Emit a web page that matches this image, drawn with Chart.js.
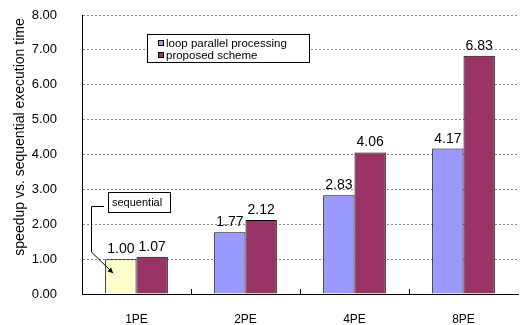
<!DOCTYPE html>
<html>
<head>
<meta charset="utf-8">
<script src="https://cdn.jsdelivr.net/npm/chart.js@4/dist/chart.umd.min.js"></script>
<style>
  html, body { margin: 0; padding: 0; background: #fff; }
  #wrap { width: 524px; height: 325px; position: relative; }
</style>
</head>
<body>
<div id="wrap"><canvas id="speedupChart"></canvas></div>
<script>
// ------------------ Data ------------------

const categories = ["1PE", "2PE", "4PE", "8PE"];
const loopParallel = [1.00, 1.77, 2.83, 4.17];
const proposedScheme = [1.07, 2.12, 4.06, 6.83];
const seriesNames = ["loop parallel processing", "proposed scheme"];
const yTicks = [0, 1, 2, 3, 4, 5, 6, 7, 8];
const calloutText = "sequential";
const yTitle = "speedup vs. sequential execution time";

const FONT = "'Liberation Sans', Arial, sans-serif";
const SEQ_COLOR = "#FFFFCC";
const LOOP_COLOR = "#9999FF";
const PROP_COLOR = "#993366";

// first loop-parallel bar is the sequential run
const loopColors = loopParallel.map((v, i) => i === 0 ? SEQ_COLOR : LOOP_COLOR);

// ------------------ Plugins ------------------

// value labels above every bar
const valueLabels = {
  id: "valueLabels",
  afterDatasetsDraw(chart) {
    const ctx = chart.ctx;
    ctx.save();
    ctx.font = "14px " + FONT;
    ctx.fillStyle = "#000";
    ctx.textAlign = "center";
    ctx.textBaseline = "alphabetic";
    chart.data.datasets.forEach((ds, di) => {
      chart.getDatasetMeta(di).data.forEach((bar, i) => {
        ctx.fillText(ds.data[i].toFixed(2), bar.x, bar.y - 6);
      });
    });
    ctx.restore();
  }
};

// small upward ticks between categories
const categoryTicks = {
  id: "categoryTicks",
  afterDatasetsDraw(chart) {
    const x = chart.scales.x;
    const bottom = chart.chartArea.bottom;
    const ctx = chart.ctx;
    ctx.save();
    ctx.strokeStyle = "#000";
    ctx.lineWidth = 1;
    for (let i = 0; i < categories.length - 1; i++) {
      const px = Math.round((x.getPixelForValue(i) + x.getPixelForValue(i + 1)) / 2) + 0.5;
      ctx.beginPath();
      ctx.moveTo(px, bottom);
      ctx.lineTo(px, bottom - 5);
      ctx.stroke();
    }
    ctx.restore();
  }
};

// legend box inside the plot, "sequential" callout, rotated y title
const extras = {
  id: "extras",
  afterDraw(chart) {
    const ctx = chart.ctx;
    const area = chart.chartArea;
    ctx.save();

    // legend
    const lx = 147, ly = 34, lw = 162, lh = 28;
    ctx.fillStyle = "#fff";
    ctx.fillRect(lx, ly, lw, lh);
    ctx.strokeStyle = "#000";
    ctx.lineWidth = 1;
    ctx.strokeRect(lx + 0.5, ly + 0.5, lw, lh);
    ctx.font = "11.5px " + FONT;
    ctx.textBaseline = "middle";
    ctx.textAlign = "left";
    [LOOP_COLOR, PROP_COLOR].forEach((c, i) => {
      const cy = ly + 9 + i * 12;
      ctx.fillStyle = c;
      ctx.fillRect(158, cy - 3, 6, 6);
      ctx.strokeStyle = "#000";
      ctx.strokeRect(158.5, cy - 2.5, 5, 5);
      ctx.fillStyle = "#000";
      ctx.fillText(seriesNames[i], 166, cy + 0.5);
    });

    // callout pointing at the sequential bar
    const bar = chart.getDatasetMeta(0).data[0];
    const barLeft = bar.x - bar.width / 2;
    const bx = Math.round(barLeft + 3), by = Math.round(bar.y - 67);
    ctx.fillStyle = "#fff";
    ctx.fillRect(bx, by, 62, 20);
    ctx.strokeRect(bx + 0.5, by + 0.5, 62, 20);
    ctx.fillStyle = "#000";
    ctx.font = "11px " + FONT;
    ctx.fillText(calloutText, bx + 4, by + 10.5);

    const ex = area.left + 9.5;
    const tipX = barLeft + 8, tipY = bar.y + 14;
    ctx.beginPath();
    ctx.moveTo(bx - 4, by + 14.5);
    ctx.lineTo(ex, by + 14.5);
    ctx.lineTo(ex, bar.y - 7);
    ctx.lineTo(tipX, tipY);
    ctx.stroke();
    const ang = Math.atan2(tipY - (bar.y - 7), tipX - ex);
    ctx.beginPath();
    ctx.moveTo(tipX, tipY);
    ctx.lineTo(tipX - 6 * Math.cos(ang - 0.45), tipY - 6 * Math.sin(ang - 0.45));
    ctx.lineTo(tipX - 6 * Math.cos(ang + 0.45), tipY - 6 * Math.sin(ang + 0.45));
    ctx.closePath();
    ctx.fill();

    // y title
    ctx.font = "14px " + FONT;
    ctx.textAlign = "center";
    ctx.translate(20, 137);
    ctx.rotate(-Math.PI / 2);
    ctx.fillText(yTitle, 0, 0);
    ctx.restore();
  }
};

// ------------------ Chart ------------------

new Chart(document.getElementById("speedupChart"), {
  type: "bar",
  data: {
    labels: categories,
    datasets: [
      { label: seriesNames[0], data: loopParallel, backgroundColor: loopColors, borderColor: "#000", borderWidth: 1 },
      { label: seriesNames[1], data: proposedScheme, backgroundColor: PROP_COLOR, borderColor: "#000", borderWidth: 1 }
    ]
  },
  options: {
    responsive: true,
    maintainAspectRatio: false,
    animation: false,
    devicePixelRatio: 1,
    layout: { padding: { top: 15, right: 6, left: 0, bottom: 0 } },
    datasets: { bar: { categoryPercentage: 0.575, barPercentage: 1.0 } },
    plugins: { legend: { display: false }, tooltip: { enabled: false } },
    scales: {
      x: {
        grid: { display: false },
        border: { color: "#000", width: 1 },
        ticks: { color: "#000", font: { family: FONT, size: 12 }, padding: 10, maxRotation: 0 },
        afterFit(scale) { scale.height = 31; scale.paddingLeft = 0; scale.paddingRight = 0; }
      },
      y: {
        min: 0,
        max: 8,
        afterBuildTicks(scale) { scale.ticks = yTicks.map(v => ({ value: v })); },
        grid: { color: "#888", drawTicks: false },
        border: { color: "#000", width: 1, dash: [2, 2] },
        ticks: {
          color: "#000",
          font: { family: FONT, size: 13 },
          padding: 25,
          callback: v => Number(v).toFixed(2)
        },
        afterFit(scale) { scale.width = 82; scale.paddingTop = 0; scale.paddingBottom = 0; }
      }
    }
  },
  plugins: [valueLabels, categoryTicks, extras]
});
</script>
</body>
</html>
